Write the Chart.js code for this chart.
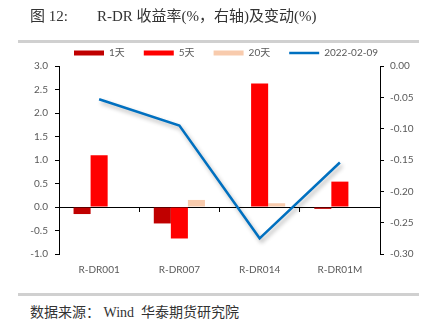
<!DOCTYPE html>
<html><head><meta charset="utf-8">
<script src="https://cdn.jsdelivr.net/npm/chart.js@4"></script>
<style>
html,body{margin:0;padding:0;background:#fff;width:433px;height:326px;overflow:hidden;}
#wrap{position:absolute;left:0;top:0;width:433px;height:290px;}
.title{position:absolute;top:4px;font-family:"Liberation Serif","Noto Sans CJK SC",serif;font-size:15px;color:#333;white-space:nowrap;}
.rule{position:absolute;left:18px;width:401px;height:3px;background:#d0d0d0;}
.src{position:absolute;left:30px;top:301px;font-family:"Liberation Serif","Noto Sans CJK SC",serif;font-size:14px;color:#333;white-space:pre;}
</style></head><body>
<div id="wrap"><canvas id="c" width="433" height="290"></canvas></div>
<div class="title" style="left:30px">图 12:</div>
<div class="title" style="left:97px">R-DR 收益率(%，右轴)及变动(%)</div>
<div class="rule" style="top:40px"></div>
<div class="rule" style="top:293px"></div>
<div class="src">数据来源： Wind  华泰期货研究院</div>
<script>
const categories = ['R-DR001', 'R-DR007', 'R-DR014', 'R-DR01M'];
const seriesNames = ['1天', '5天', '20天', '2022-02-09'];
const change1d = [-0.15, -0.35, 0.00, -0.04];
const change5d = [1.10, -0.67, 2.63, 0.54];
const change20d = [0.00, 0.15, 0.08, 0.00];
const yieldLine = [-0.053, -0.095, -0.275, -0.154];
const leftAxis = { min: -1, max: 3, step: 0.5 };
const rightAxis = { min: -0.3, max: 0, step: 0.05 };

const FONT = "Lato, 'Noto Sans CJK SC', sans-serif";
Chart.defaults.font.family = FONT;
Chart.defaults.font.size = 10;
Chart.defaults.color = '#595959';

const shadowPlugin = {
  id: 'lineShadow',
  beforeDatasetDraw(chart, args) {
    if (chart.data.datasets[args.index].type === 'line') {
      const c = chart.ctx;
      c.save();
      c.shadowColor = 'rgba(0,0,0,0.3)';
      c.shadowBlur = 4;
      c.shadowOffsetX = 2;
      c.shadowOffsetY = 3;
    }
  },
  afterDatasetDraw(chart, args) {
    if (chart.data.datasets[args.index].type === 'line') chart.ctx.restore();
  }
};

new Chart(document.getElementById('c'), {
  data: {
    labels: categories,
    datasets: [
      { type: 'bar', label: seriesNames[0], data: change1d, backgroundColor: '#C00000', xAxisID: 'x', yAxisID: 'y', order: 1 },
      { type: 'bar', label: seriesNames[1], data: change5d, backgroundColor: '#FF0000', xAxisID: 'x', yAxisID: 'y', order: 1 },
      { type: 'bar', label: seriesNames[2], data: change20d, backgroundColor: '#F8CBAD', xAxisID: 'x', yAxisID: 'y', order: 1 },
      { type: 'line', label: seriesNames[3], data: yieldLine, borderColor: '#0070C0', backgroundColor: '#0070C0', borderWidth: 2.5, pointRadius: 0, tension: 0, xAxisID: 'x', yAxisID: 'y2', order: 0 }
    ]
  },
  options: {
    responsive: false,
    animation: false,
    devicePixelRatio: 1,
    layout: { padding: { top: 29, left: 19, right: 0, bottom: 0 } },
    datasets: { bar: { categoryPercentage: 0.6375, barPercentage: 1 } },
    plugins: {
      tooltip: { enabled: false },
      legend: {
        position: 'top',
        maxHeight: 37,
        labels: {
          usePointStyle: true,
          pointStyleWidth: 30,
          boxHeight: 5,
          padding: 19,
          color: '#595959',
          font: { size: 10, family: FONT },
          sort: (a, b) => a.datasetIndex - b.datasetIndex,
          generateLabels(chart) {
            const items = Chart.defaults.plugins.legend.labels.generateLabels(chart);
            items.forEach(it => {
              const ds = chart.data.datasets[it.datasetIndex];
              if (ds.type === 'line') {
                it.pointStyle = 'line'; it.strokeStyle = ds.borderColor; it.lineWidth = 2.5;
              } else {
                it.pointStyle = 'rect'; it.lineWidth = 0; it.fillStyle = ds.backgroundColor; it.strokeStyle = ds.backgroundColor;
              }
            });
            return items;
          }
        }
      }
    },
    scales: {
      x: {
        type: 'category',
        position: { y: 0 },
        offset: true,
        grid: { display: true, drawOnChartArea: false, offset: true, tickLength: 4, tickColor: '#000', lineWidth: 1 },
        border: { display: true, color: '#000', width: 1 },
        ticks: { display: false }
      },
      x2: {
        type: 'category',
        position: 'bottom',
        labels: categories,
        offset: true,
        grid: { display: false, drawTicks: false },
        border: { display: false },
        ticks: { padding: 10, color: '#595959', font: { size: 10, family: FONT } },
        afterFit(s) { s.height = 36; }
      },
      y: {
        position: 'left',
        min: leftAxis.min, max: leftAxis.max,
        ticks: { stepSize: leftAxis.step, padding: 7, callback: v => Number(v).toFixed(1) },
        grid: { drawOnChartArea: false, tickLength: 4, tickColor: '#000' },
        border: { color: '#000', width: 1 },
        afterFit(s) { s.width = 40; }
      },
      y2: {
        position: 'right',
        min: rightAxis.min, max: rightAxis.max,
        ticks: { stepSize: rightAxis.step, padding: 6, callback: v => Number(v).toFixed(2) },
        grid: { drawOnChartArea: false, tickLength: 4, tickColor: '#000' },
        border: { color: '#000', width: 1 },
        afterFit(s) { s.width = 53; }
      }
    }
  },
  plugins: [shadowPlugin]
});
</script>
</body></html>
